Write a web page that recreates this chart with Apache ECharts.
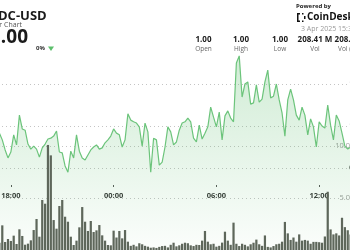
<!DOCTYPE html>
<html><head><meta charset="utf-8">
<script src="https://cdn.jsdelivr.net/npm/echarts@6/dist/echarts.min.js"></script>
<style>html,body{margin:0;padding:0;background:#fff;}#c{width:350px;height:250px;}</style>
</head><body><div id="c"></div>
<script>
const times = ['17:20','17:30','17:40','17:50',
'18:00','18:10','18:20','18:30','18:40','18:50','19:00','19:10','19:20','19:30','19:40','19:50',
'20:00','20:10','20:20','20:30','20:40','20:50','21:00','21:10','21:20','21:30','21:40','21:50',
'22:00','22:10','22:20','22:30','22:40','22:50','23:00','23:10','23:20','23:30','23:40','23:50',
'00:00','00:10','00:20','00:30','00:40','00:50','01:00','01:10','01:20','01:30','01:40','01:50',
'02:00','02:10','02:20','02:30','02:40','02:50','03:00','03:10','03:20','03:30','03:40','03:50',
'04:00','04:10','04:20','04:30','04:40','04:50','05:00','05:10','05:20','05:30','05:40','05:50',
'06:00','06:10','06:20','06:30','06:40','06:50','07:00','07:10','07:20','07:30','07:40','07:50',
'08:00','08:10','08:20','08:30','08:40','08:50','09:00','09:10','09:20','09:30','09:40','09:50',
'10:00','10:10','10:20','10:30','10:40','10:50','11:00','11:10','11:20','11:30','11:40','11:50',
'12:00','12:10','12:20','12:30','12:40','12:50','13:00','13:10','13:20','13:30','13:40','13:50'];

const prices = [0.999983,0.999967,0.999943,0.999924,0.999938,0.999979,0.999955,1.000026,0.999993,0.999990,
0.999957,0.999945,0.999952,0.999945,0.999926,0.999948,0.999957,0.999969,0.999971,0.999976,
0.999988,0.999938,0.999936,0.999905,0.999890,0.999940,0.999924,0.999979,0.999940,0.999924,
0.999919,0.999931,0.999943,0.999950,0.999955,0.999945,0.999948,0.999960,0.999967,0.999976,
0.999993,0.999983,0.999979,0.999950,0.999967,1.000029,1.000014,1.000010,1.000007,0.999998,
0.999952,1.000007,0.999986,0.999890,0.999971,0.999967,0.999907,0.999914,0.999950,0.999998,
0.999986,0.999955,0.999962,0.999990,1.000007,1.000010,1.000019,1.000010,0.999971,0.999962,
1.000002,0.999969,0.999983,0.999998,1.000045,1.000021,0.999998,1.000033,0.999967,1.000024,
1.000036,1.000019,1.000010,1.000150,1.000167,1.000069,1.000100,1.000105,1.000052,1.000055,
1.000098,1.000057,1.000064,1.000105,1.000133,1.000067,1.000071,1.000100,1.000062,1.000031,
0.999976,1.000062,1.000088,1.000062,1.000026,1.000014,1.000045,1.000026,0.999979,1.000017,
0.999998,0.999950,1.000010,1.000000,0.999995,1.000050,1.000002,0.999967,1.000026,1.000012,
0.999983,0.999952,0.999945,0.999950];

const volumes = [0.70,2.37,0.77,1.06,0.87,1.38,0.58,1.99,1.35,0.51,0.61,0.93,1.92,2.98,1.28,4.81,4.45,10.1,9.1,2.88,
2.05,4.23,4.81,3.2,2.72,1.28,0.48,0.9,2.18,4.13,2.72,1.83,2.79,1.73,1.89,2.4,1.41,0.9,0.48,0.45,
1.86,1.2,1.83,1.12,1.92,0.8,0.4,0.5,0.35,0.65,0.55,0.4,0.32,0.22,
0.25,0.2,0.3,0.38,0.4,0.25,0.5,0.7,0.35,0.45,0.6,0.7,
0.65,0.45,0.38,0.5,0.48,0.9,1.83,0.8,0.55,0.6,0.32,0.4,
0.71,1.76,0.9,0.5,2.63,0.6,0.38,0.6,0.5,0.35,0.55,0.7,
1.0,0.55,0.4,1.4,0.3,0.25,0.38,0.55,0.6,0.8,
2.7,1.6,0.97,1.2,0.8,1.5,0.9,0.97,0.9,0.6,0.78,0.78,0.75,0.7,
1.3,5.6,1.98,1.5,1.6,1.4,3.1,2.2,1.9,1.5];

const statValues = ['1.00','1.00','1.00','208.41 M','208.41 M'];
const statLabels = ['Open','High','Low','Vol','Vol (USD)'];
const priceLabelTicks = [0.9999, 1.0000, 1.0001];
const volLabelTicks = [5, 10];

const FONT = '"Open Sans", "Noto Sans", sans-serif';
const chart = echarts.init(document.getElementById('c'), null, {renderer:'canvas'});

function isMajor(v){ return /:00$/.test(v) && (parseInt(v,10) % 6 === 0); }
const dotted = [1,3];

const statX = [203.5, 241, 280, 315, 352];
const graphics = [
  {type:'text', x:-19, y:16, style:{text:'USDC-USD', font:'bold 13px '+FONT, fill:'#1a1a1a', textVerticalAlign:'middle'}},
  {type:'text', x:22, y:25, style:{text:'24 Hour Chart', font:'7px '+FONT, fill:'#555', textAlign:'right', textVerticalAlign:'middle'}},
  {type:'text', x:28, y:38, style:{text:'1.00', font:'bold 19px '+FONT, fill:'#1a1a1a', textAlign:'right', textVerticalAlign:'middle'}},
  {type:'text', x:36, y:48.5, style:{text:'0%', font:'bold 6px '+FONT, fill:'#333', textVerticalAlign:'middle'}},
  {type:'polygon', shape:{points:[[48,46.5],[54,46.5],[51,51]]}, style:{fill:'#5cbf6c'}},
  {type:'text', x:296, y:6, style:{text:'Powered by', font:'bold 6px '+FONT, fill:'#222', textVerticalAlign:'middle'}},
  {type:'text', x:307, y:17.5, style:{text:'CoinDesk Indices', font:'bold 10px '+FONT, fill:'#111', textVerticalAlign:'middle'}},
  {type:'rect', shape:{x:297,y:13,width:3,height:1.5}, style:{fill:'#111'}},
  {type:'rect', shape:{x:297,y:13,width:1.5,height:9}, style:{fill:'#111'}},
  {type:'rect', shape:{x:297,y:20.5,width:3,height:1.5}, style:{fill:'#111'}},
  {type:'rect', shape:{x:302,y:13,width:1.5,height:1.5}, style:{fill:'#111'}},
  {type:'rect', shape:{x:302,y:20.5,width:1.5,height:1.5}, style:{fill:'#111'}},
  {type:'rect', shape:{x:304,y:16,width:1.5,height:3}, style:{fill:'#111'}},
  {type:'text', x:301, y:29, style:{text:'3 Apr 2025 15:32', font:'7px '+FONT, fill:'#999', textVerticalAlign:'middle'}}
];
statValues.forEach((v,i)=>{
  graphics.push({type:'text', x:statX[i], y:40, style:{text:v, font:'bold 8px '+FONT, fill:'#1a1a1a', textAlign:'center', textVerticalAlign:'middle'}});
  graphics.push({type:'text', x:statX[i], y:49, style:{text:statLabels[i], font:'6.5px '+FONT, fill:'#666', textAlign:'center', textVerticalAlign:'middle'}});
});

chart.setOption({
  animation:false,
  backgroundColor:'#fff',
  grid:[
    {left:-2, right:-2, top:0, height:252, containLabel:false, outerBoundsMode:'none'},
    {left:-2, right:-2, top:94, height:156, containLabel:false, outerBoundsMode:'none'}
  ],
  xAxis:[
    {type:'category', gridIndex:0, data:times, boundaryGap:true, position:'bottom', offset:-65,
     axisLine:{show:false},
     axisTick:{show:true, inside:true, length:2, alignWithLabel:true, interval:(i,v)=>isMajor(v), lineStyle:{color:'#555',width:1}},
     axisLabel:{interval:(i,v)=>isMajor(v), margin:5, fontSize:7.5, fontWeight:'bold', color:'#333', fontFamily:FONT},
     splitLine:{show:false}},
    {type:'category', gridIndex:1, data:times, boundaryGap:true, show:false}
  ],
  yAxis:[
    {type:'value', gridIndex:0, position:'right', min:0.9997, max:1.0003, interval:0.0001, offset:-5,
     axisLine:{show:false}, axisTick:{show:false},
     axisLabel:{margin:2, fontSize:8, color:'#333', fontFamily:FONT,
       formatter:v=>priceLabelTicks.some(t=>Math.abs(t-v)<1e-7)? v.toFixed(4):''},
     splitLine:{show:true, lineStyle:{type:dotted, width:1,
       color:['rgba(0,0,0,0)','rgba(0,0,0,0)','#c4c4c4','#c4c4c4','#c4c4c4','rgba(0,0,0,0)','rgba(0,0,0,0)']}}},
    {type:'value', gridIndex:1, position:'right', min:0, max:15, interval:5,
     axisLine:{show:false}, axisTick:{show:false},
     axisLabel:{margin:11, align:'right', fontSize:7.5, color:'#a0a0a0', fontFamily:FONT,
       formatter:v=>volLabelTicks.indexOf(v)>=0? v.toFixed(2)+' M':''},
     splitLine:{show:true, lineStyle:{type:dotted, width:1,
       color:['rgba(0,0,0,0)','#c4c4c4','#c4c4c4','rgba(0,0,0,0)']}}}
  ],
  series:[
    {type:'line', xAxisIndex:0, yAxisIndex:0, data:prices, symbol:'none', smooth:false, z:2,
     lineStyle:{color:'#6cc47b', width:1.2},
     areaStyle:{origin:'start', color:new echarts.graphic.LinearGradient(0,0,0,1,[
       {offset:0, color:'rgba(96,190,112,0.42)'},
       {offset:1, color:'rgba(96,190,112,0.03)'}])}},
    {type:'bar', xAxisIndex:1, yAxisIndex:1, data:volumes, barCategoryGap:'22%', z:3,
     itemStyle:{color:'#5e675b'}}
  ],
  graphic:graphics
});
</script></body></html>
